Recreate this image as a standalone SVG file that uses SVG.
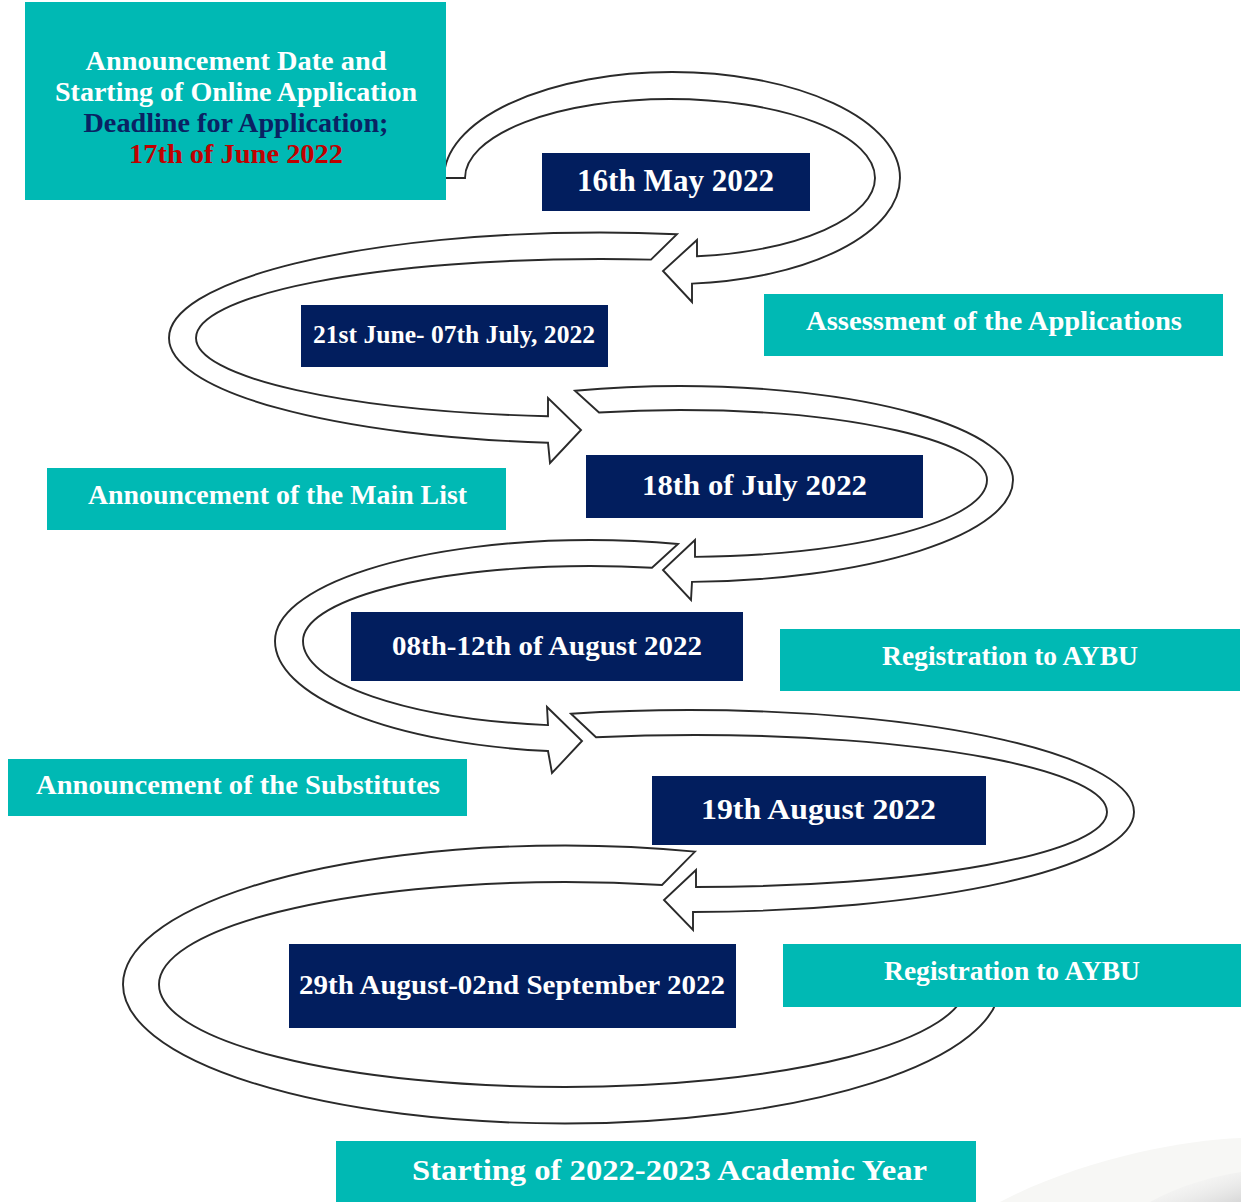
<svg xmlns="http://www.w3.org/2000/svg" width="1241" height="1202" viewBox="0 0 1241 1202">
<defs>
<style>
.teal{fill:#00B9B4}
.navy{fill:#021E5E}
.band{fill:#FFFFFF;stroke:#2A2A2A;stroke-width:1.9;stroke-linejoin:miter}
.t{font-family:"Liberation Serif","Times New Roman",serif;font-weight:bold;fill:#FFFFFF}
</style>
<linearGradient id="sw" x1="0" y1="0" x2="1" y2="1">
<stop offset="0" stop-color="#FFFFFF" stop-opacity="0"/>
<stop offset="1" stop-color="#D8D8D8"/>
</linearGradient>
</defs>
<rect x="0" y="0" width="1241" height="1202" fill="#FFFFFF"/>
<path d="M1000 1202 C1080 1160 1180 1140 1241 1138 L1241 1202 Z" fill="#F7F7F5"/>
<path d="M1150 1202 C1180 1185 1215 1176 1241 1172 L1241 1202 Z" fill="url(#sw)"/>

<g id="connectors">
<path class="band" d="M444 178 A228 106 0 0 1 672 72 A228 106 0 0 1 900 178 A228 106 0 0 1 692 283.6 L692 302 L663 271 L697 240 L697 256.3 A205 79 0 0 0 875 178 A205 79 0 0 0 670 99 A205 79 0 0 0 465 178 Z"/>
<path class="band" d="M677 234.2 A431 105.5 0 0 0 600 232.5 A431 105.5 0 0 0 169 338 A431 105.5 0 0 0 548 442.7 L550 463 L581 430 L548 398 L548 416.3 A404 79 0 0 1 196 338 A404 79 0 0 1 600 259 A404 79 0 0 1 651 259.6 Z"/>
<path class="band" d="M575 390.8 A333 94 0 0 1 680 386 A333 94 0 0 1 1013 480 A333 102 0 0 1 692 581.9 L691 600 L663 570 L695 540 L695 556.9 A307 77 0 0 0 987 480 A307 70 0 0 0 680 410 A307 70 0 0 0 599 412.5 Z"/>
<path class="band" d="M678 544 A315 101 0 0 0 590 540 A315 101 0 0 0 275 641 A315 111 0 0 0 548 751 L552 773 L582 741 L547 707 L548 725.1 A287 85 0 0 1 303 641 A287 75 0 0 1 590 566 A287 75 0 0 1 652 567.8 Z"/>
<path class="band" d="M571 713.7 A445 102 0 0 1 689 710 A445 102 0 0 1 1134 812 A445 100 0 0 1 693 912 L693 930 L664 900 L696 870 L696 887 A412 75 0 0 0 1107 812 A412 77 0 0 0 695 735 A412 77 0 0 0 596 737.3 Z"/>
<path class="band" d="M695 851.6 A442 139 0 0 0 565 845.5 A442 139 0 0 0 123 984.5 A442 139 0 0 0 565 1123.5 A435 139 0 0 0 1000 984.5 L966 984.5 A401 102.5 0 0 1 565 1087 A406 102.5 0 0 1 159 984.5 A406 102.5 0 0 1 565 882 A406 102.5 0 0 1 662 885 Z"/>
</g>

<g id="n1">
<rect class="teal" x="25" y="2" width="421" height="198"/>
<text class="t" font-size="28" x="236" y="70" text-anchor="middle" textLength="301" lengthAdjust="spacingAndGlyphs">Announcement Date and</text>
<text class="t" font-size="28" x="236" y="101" text-anchor="middle" textLength="362" lengthAdjust="spacingAndGlyphs">Starting of Online Application</text>
<text class="t" font-size="28" x="236" y="132" text-anchor="middle" textLength="305" lengthAdjust="spacingAndGlyphs" style="fill:#0A2263">Deadline for Application;</text>
<text class="t" font-size="28" x="236" y="163" text-anchor="middle" textLength="214" lengthAdjust="spacingAndGlyphs" style="fill:#C00000">17th of June 2022</text>
</g>

<g id="n2">
<rect class="navy" x="542" y="153" width="268" height="58"/>
<text class="t" font-size="31" x="577" y="191" textLength="197" lengthAdjust="spacingAndGlyphs">16th May 2022</text>
</g>

<g id="n3">
<rect class="teal" x="764" y="294" width="459" height="62"/>
<text class="t" font-size="28" x="806" y="330" textLength="376" lengthAdjust="spacingAndGlyphs">Assessment of the Applications</text>
</g>

<g id="n4">
<rect class="navy" x="301" y="305" width="307" height="62"/>
<text class="t" font-size="26" x="313" y="343" textLength="282" lengthAdjust="spacingAndGlyphs">21st June- 07th July, 2022</text>
</g>

<g id="n5">
<rect class="teal" x="47" y="468" width="459" height="62"/>
<text class="t" font-size="28" x="88" y="504" textLength="379" lengthAdjust="spacingAndGlyphs">Announcement of the Main List</text>
</g>

<g id="n6">
<rect class="navy" x="586" y="455" width="337" height="63"/>
<text class="t" font-size="30" x="642" y="495" textLength="225" lengthAdjust="spacingAndGlyphs">18th of July 2022</text>
</g>

<g id="n7">
<rect class="teal" x="780" y="629" width="460" height="62"/>
<text class="t" font-size="27" x="882" y="665" textLength="256" lengthAdjust="spacingAndGlyphs">Registration to AYBU</text>
</g>

<g id="n8">
<rect class="navy" x="351" y="612" width="392" height="69"/>
<text class="t" font-size="27" x="392" y="655" textLength="310" lengthAdjust="spacingAndGlyphs">08th-12th of August 2022</text>
</g>

<g id="n9">
<rect class="teal" x="8" y="759" width="459" height="57"/>
<text class="t" font-size="28" x="36" y="794" textLength="404" lengthAdjust="spacingAndGlyphs">Announcement of the Substitutes</text>
</g>

<g id="n10">
<rect class="navy" x="652" y="776" width="334" height="69"/>
<text class="t" font-size="30" x="701" y="819" textLength="235" lengthAdjust="spacingAndGlyphs">19th August 2022</text>
</g>

<g id="n11">
<rect class="navy" x="289" y="944" width="447" height="84"/>
<text class="t" font-size="28" x="299" y="994" textLength="426" lengthAdjust="spacingAndGlyphs">29th August-02nd September 2022</text>
</g>

<g id="n12">
<rect class="teal" x="783" y="944" width="458" height="63"/>
<text class="t" font-size="27" x="884" y="980" textLength="256" lengthAdjust="spacingAndGlyphs">Registration to AYBU</text>
</g>

<g id="n13">
<rect class="teal" x="336" y="1141" width="640" height="61"/>
<text class="t" font-size="30" x="412" y="1180" textLength="515" lengthAdjust="spacingAndGlyphs">Starting of 2022-2023 Academic Year</text>
</g>
</svg>
